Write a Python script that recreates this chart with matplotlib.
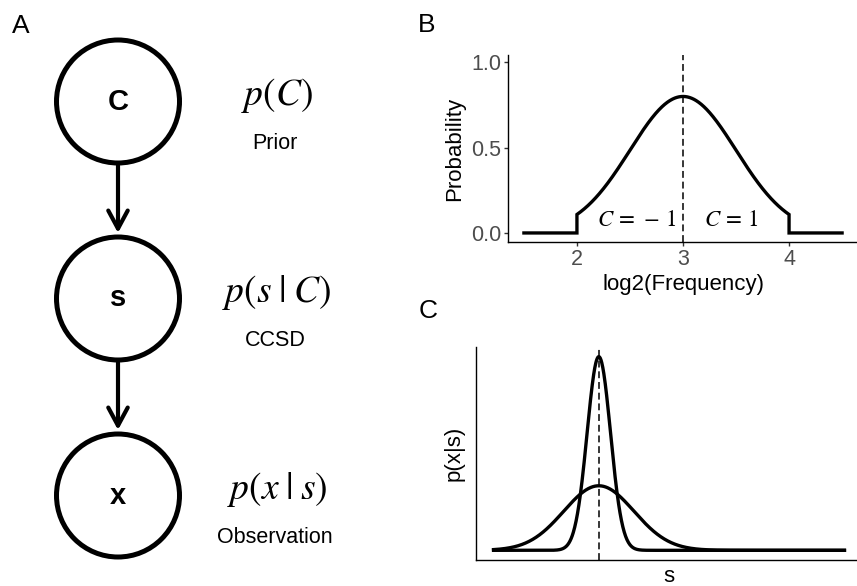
import numpy as np
import matplotlib.pyplot as plt
from matplotlib.patches import Circle

plt.rcParams['font.family'] = ['Liberation Sans', 'DejaVu Sans']
plt.rcParams['mathtext.fontset'] = 'stix'

# --- data -------------------------------------------------------------
# panel A: generative model
nodes = ['C', 's', 'x']
dists = [r'$p(C)$', r'$p(s\;|\;C)$', r'$p(x\;|\;s)$']
descs = ['Prior', 'CCSD', 'Observation']

# panel B: category-conditioned stimulus distribution (truncated gaussian)
freq_range = [1.5, 4.5]
freq_support = [2.0, 4.0]
freq_mean = 3.0
freq_sd = 0.5
freq_peak = 0.8
cat_labels = [r'$C\,=\,-\,1$', r'$C\,=\,1$']
cat_label_x = [2.56, 3.45]
cat_label_y = 0.08
b_xticks = [2, 3, 4]
b_yticks = [0.0, 0.5, 1.0]

# panel C: measurement noise, low vs high
s_range = [0.0, 10.0]
s_mean = 3.0
noise_sds = [1 / 3, 1.0]

W, H = 857, 586
fig = plt.figure(figsize=(W / 100, H / 100), dpi=100)

# --- panel A ------------------------------------------------------------
axA = fig.add_axes([0, 0, 0.5, 1])
axA.set_xlim(0, W / 2)
axA.set_ylim(H, 0)
axA.axis('off')

node_x, node_y0, node_step, node_r = 118, 101.5, 197, 61.5
for i, (nd, dist, desc) in enumerate(zip(nodes, dists, descs)):
    cy = node_y0 + i * node_step
    axA.add_patch(Circle((node_x, cy), node_r, fill=False, lw=3.6, ec='black'))
    axA.text(node_x, cy, nd, ha='center', va='center', fontsize=21, fontweight='bold')
    axA.text(277, cy - 6, dist, ha='center', va='center', fontsize=27)
    axA.text(275, cy + 42, desc, ha='center', va='center', fontsize=15.5)
    if i < len(nodes) - 1:
        axA.annotate('', xy=(node_x, cy + node_step - node_r - 4),
                     xytext=(node_x, cy + node_r + 2),
                     arrowprops=dict(arrowstyle='->,head_length=1.3,head_width=0.7',
                                     lw=3, color='black', shrinkA=0, shrinkB=0))

# --- panel B ------------------------------------------------------------
axB = fig.add_axes([508 / W, 1 - 242 / H, 350 / W, 187 / H])
xs = np.linspace(freq_support[0], freq_support[1], 400)
ys = freq_peak * np.exp(-(xs - freq_mean) ** 2 / (2 * freq_sd ** 2))
xb = np.concatenate([[freq_range[0], freq_support[0]], xs, [freq_support[1], freq_range[1]]])
yb = np.concatenate([[0, 0], ys, [0, 0]])
axB.plot(xb, yb, color='black', lw=2.4, solid_joinstyle='miter')
axB.axvline(freq_mean, color='black', lw=1.1, dashes=(4.5, 2.5))
for lab, lx in zip(cat_labels, cat_label_x):
    axB.text(lx, cat_label_y, lab, ha='center', va='center', fontsize=16.5)
axB.set_xlim(1.35, 4.65)
axB.set_ylim(-0.053, 1.043)
axB.set_xticks(b_xticks)
axB.set_yticks(b_yticks)
axB.set_yticklabels(['0.0', '0.5', '1.0'])
axB.set_xlabel('log2(Frequency)', fontsize=16, labelpad=3)
axB.set_ylabel('Probability', fontsize=16, labelpad=4)

# --- panel C ------------------------------------------------------------
axC = fig.add_axes([476 / W, 1 - 560 / H, 386 / W, 213 / H])
s = np.linspace(s_range[0], s_range[1], 1000)
peak = 0
for sd in noise_sds:
    dens = np.exp(-(s - s_mean) ** 2 / (2 * sd ** 2)) / (sd * np.sqrt(2 * np.pi))
    peak = max(peak, dens.max())
    axC.plot(s, dens, color='black', lw=2.4)
axC.axvline(s_mean, color='black', lw=1.1, dashes=(4.5, 2.5))
axC.set_xlim(s_range[0] - 0.5, s_range[1] + 0.5)
axC.set_ylim(-0.05 * peak, 1.05 * peak)
axC.set_xticks([])
axC.set_yticks([])
axC.set_xlabel('s', fontsize=16, labelpad=4)
axC.set_ylabel('p(x|s)', fontsize=16, labelpad=8)

for ax in (axB, axC):
    for side in ('top', 'right'):
        ax.spines[side].set_visible(False)
    for side in ('left', 'bottom'):
        ax.spines[side].set_linewidth(1.0)
        ax.spines[side].set_color('black')
    ax.tick_params(length=3, width=1.0, color='#333333', labelcolor='#4D4D4D',
                   labelsize=15.5, pad=2)

# panel letters
fig.text(12 / W, 1 - 26 / H, 'A', fontsize=19, va='center', ha='left')
fig.text(418 / W, 1 - 25 / H, 'B', fontsize=19, va='center', ha='left')
fig.text(419 / W, 1 - 311 / H, 'C', fontsize=19, va='center', ha='left')

fig.savefig('out.png', dpi=100)
